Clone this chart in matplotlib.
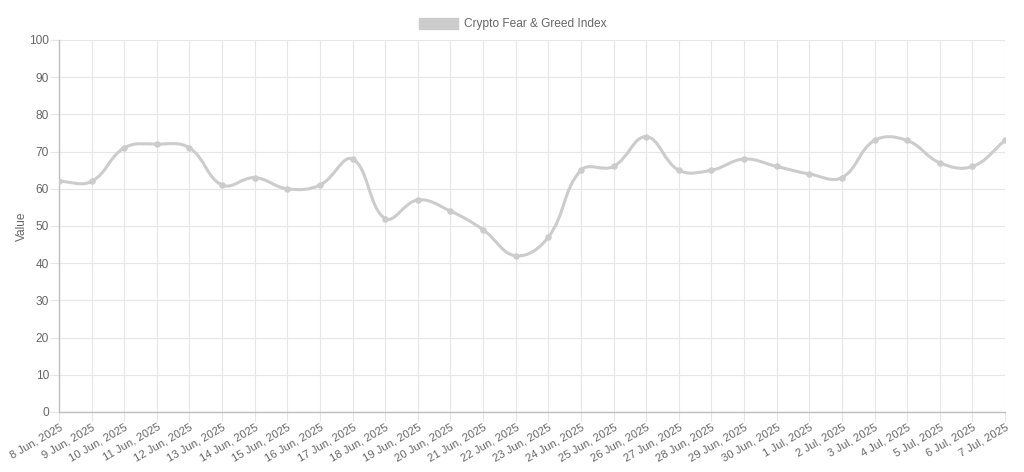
import matplotlib
matplotlib.use('Agg')
import matplotlib.pyplot as plt
import numpy as np
from matplotlib.path import Path
from matplotlib.patches import PathPatch, Patch

plt.rc('font', family='Liberation Sans')

dates = ['8 Jun, 2025', '9 Jun, 2025', '10 Jun, 2025', '11 Jun, 2025', '12 Jun, 2025',
         '13 Jun, 2025', '14 Jun, 2025', '15 Jun, 2025', '16 Jun, 2025', '17 Jun, 2025',
         '18 Jun, 2025', '19 Jun, 2025', '20 Jun, 2025', '21 Jun, 2025', '22 Jun, 2025',
         '23 Jun, 2025', '24 Jun, 2025', '25 Jun, 2025', '26 Jun, 2025', '27 Jun, 2025',
         '28 Jun, 2025', '29 Jun, 2025', '30 Jun, 2025', '1 Jul, 2025', '2 Jul, 2025',
         '3 Jul, 2025', '4 Jul, 2025', '5 Jul, 2025', '6 Jul, 2025', '7 Jul, 2025']
values = [62, 62, 71, 72, 71, 61, 63, 60, 61, 68,
          52, 57, 54, 49, 42, 47, 65, 66, 74, 65,
          65, 68, 66, 64, 63, 73, 73, 67, 66, 73]
series_name = 'Crypto Fear & Greed Index'

line_col = '#cccccc'
text_col = '#666666'
grid_col = '#e6e6e6'
axis_col = '#bfbfbf'

fig = plt.figure(figsize=(10.24, 4.72), dpi=100)
ax = fig.add_axes([59/1024, 60/472, 946/1024, 372/472])
x = np.arange(len(values))
ax.set_xlim(0, len(values) - 1)
ax.set_ylim(0, 100)


def spline_path(xs, ys, tension=0.4):
    # chart.js style bezier smoothing, computed in pixel space
    pts = ax.transData.transform(np.column_stack([xs, ys]))
    n = len(pts)
    cp_prev = pts.copy()
    cp_next = pts.copy()
    for i in range(n):
        prev = pts[i - 1] if i > 0 else pts[i]
        nxt = pts[i + 1] if i < n - 1 else pts[i]
        d01 = np.hypot(*(pts[i] - prev))
        d12 = np.hypot(*(nxt - pts[i]))
        tot = d01 + d12
        s01 = d01 / tot if tot else 0
        s12 = d12 / tot if tot else 0
        cp_prev[i] = pts[i] - tension * s01 * (nxt - prev)
        cp_next[i] = pts[i] + tension * s12 * (nxt - prev)
    verts = [pts[0]]
    codes = [Path.MOVETO]
    for i in range(1, n):
        verts += [cp_next[i - 1], cp_prev[i], pts[i]]
        codes += [Path.CURVE4] * 3
    verts = ax.transData.inverted().transform(np.array(verts))
    return Path(verts, codes)


ax.add_patch(PathPatch(spline_path(x, values), fill=False, edgecolor=line_col,
                       linewidth=2.2, capstyle='round', joinstyle='round', zorder=3))
ax.scatter(x, values, s=22, color=line_col, zorder=4, linewidths=0)

ax.set_yticks(np.arange(0, 101, 10))
ax.set_xticks(x)
ax.set_xticklabels(dates, rotation=30, ha='right', rotation_mode='anchor')
ax.grid(True, color=grid_col, linewidth=0.8)
ax.set_axisbelow(True)
for s in ['top', 'right']:
    ax.spines[s].set_visible(False)
for s in ['left', 'bottom']:
    ax.spines[s].set_color(axis_col)
    ax.spines[s].set_linewidth(1)
ax.tick_params(axis='both', colors=grid_col, labelcolor=text_col, labelsize=8.6,
               length=6.5, width=0.8)
ax.tick_params(axis='x', labelsize=8.1, pad=0.5)
ax.tick_params(axis='y', pad=0.8)
ax.set_ylabel('Value', color=text_col, fontsize=8.6, labelpad=1)

leg = fig.legend(handles=[Patch(facecolor=line_col, edgecolor=line_col, label=series_name)],
                 loc='center', bbox_to_anchor=(513/1024, 1 - 24/472), frameon=False,
                 fontsize=8.6, handlelength=3.3, handleheight=1.1, handletextpad=0.5)
for t in leg.get_texts():
    t.set_color(text_col)

fig.savefig('out.png', dpi=100)
